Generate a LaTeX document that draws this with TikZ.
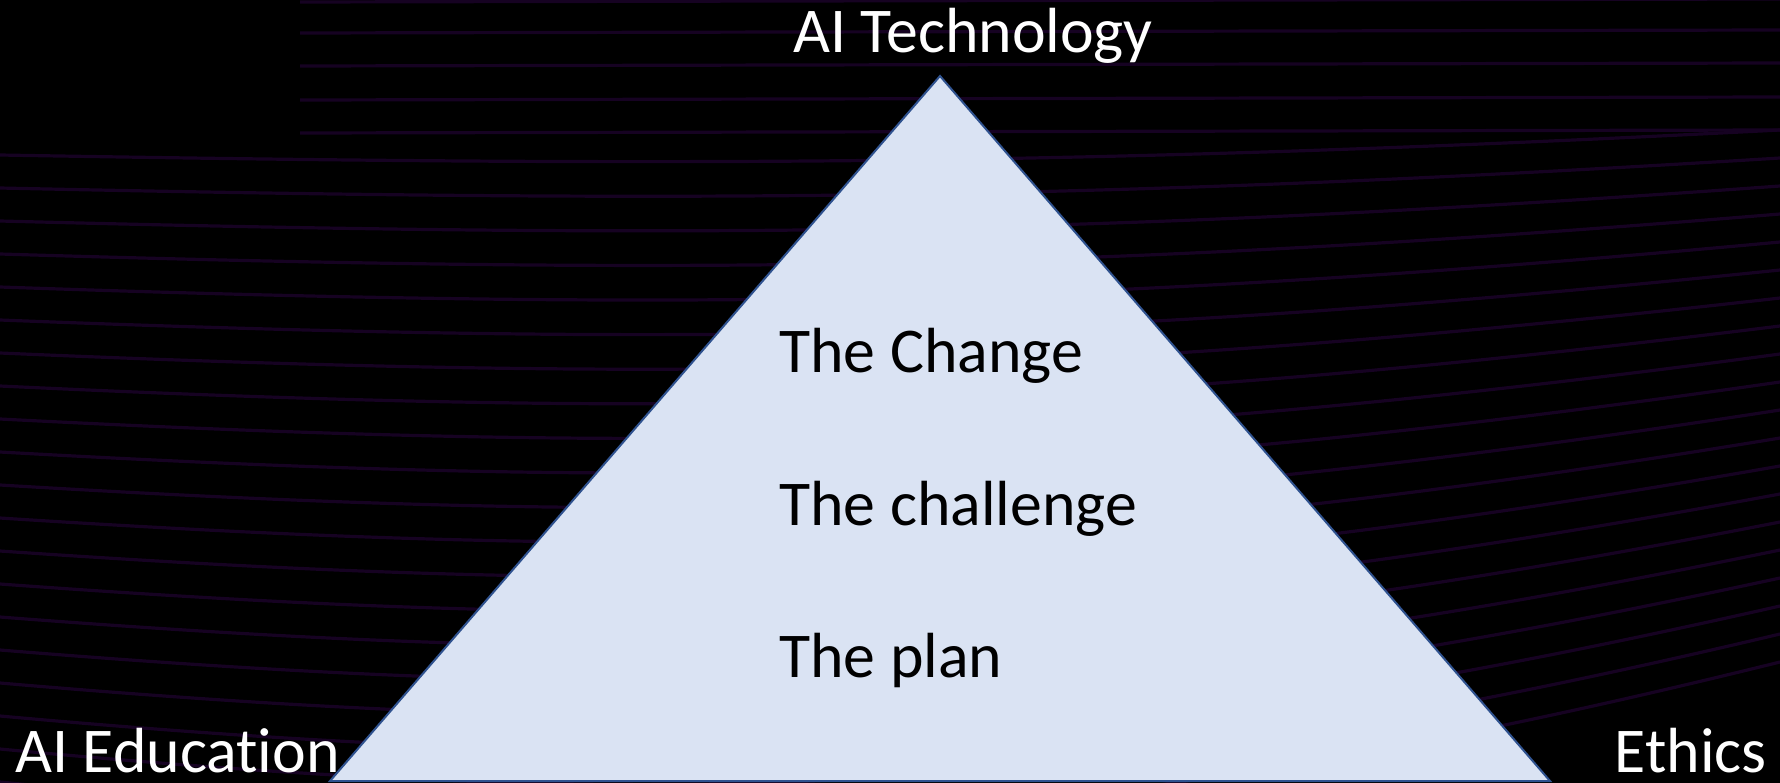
\documentclass[tikz,border=0pt]{standalone}
\usepackage{fontspec}
\setmainfont{Carlito}[Ligatures={NoCommon,NoDiscretionary,NoRare,NoContextual}]
\definecolor{bgline}{RGB}{22,2,34}
\definecolor{triedge}{RGB}{47,82,143}
\definecolor{trifill}{RGB}{218,227,243}
\begin{document}
\begin{tikzpicture}[x=0.5pt,y=-0.5pt,
  lbl/.style={inner sep=0pt,font=\fontsize{31.9}{38}\selectfont},
  wlbl/.style={lbl,text=white},
  blbl/.style={lbl,text=black},
  bgl/.style={draw=bgline,line width=1.6pt}]
\useasboundingbox (0,0) rectangle (1780,782);
\fill[black] (-6,-6) rectangle (1786,788);
% background lines
\begin{scope}
\clip (0,0) rectangle (1780,782);
\foreach \y in {2,33,66,100,133} {
  \draw[bgl] (300,\y) -- (1780,\y-3);
}
\foreach \k in {0,...,19} {
  \pgfmathsetmacro{\ya}{155+33*\k}
  \pgfmathsetmacro{\yb}{\ya+12+3*\k}
  \pgfmathsetmacro{\yc}{\ya+10+2*\k}
  \pgfmathsetmacro{\yd}{\ya-25-5*\k}
  \draw[bgl] (0,\ya) .. controls (700,\yb) and (1100,\yc) .. (1780,\yd);
}
\end{scope}
% triangle
\coordinate (apex) at (940,76);
\coordinate (bl) at (330,781);
\coordinate (br) at (1550,781);
\filldraw[fill=trifill,draw=triedge,line width=1pt,line join=miter] (apex) -- (br) -- (bl) -- cycle;
% labels
\node[wlbl,anchor=base west] (tech) at (793,52) {AI Technology};
\node[wlbl,anchor=base west,text depth=0pt] (edu) at (15,772) {AI Education};
\node[wlbl,anchor=base east,text depth=0pt] (eth) at (1767,772) {Ethics};
\node[blbl,anchor=base west] (change) at (779,372) {The Change};
\node[blbl,anchor=base west] (chall) at (779,525) {The challenge};
\node[blbl,anchor=base west] (plan) at (779,677) {The plan};
\end{tikzpicture}
\end{document}
